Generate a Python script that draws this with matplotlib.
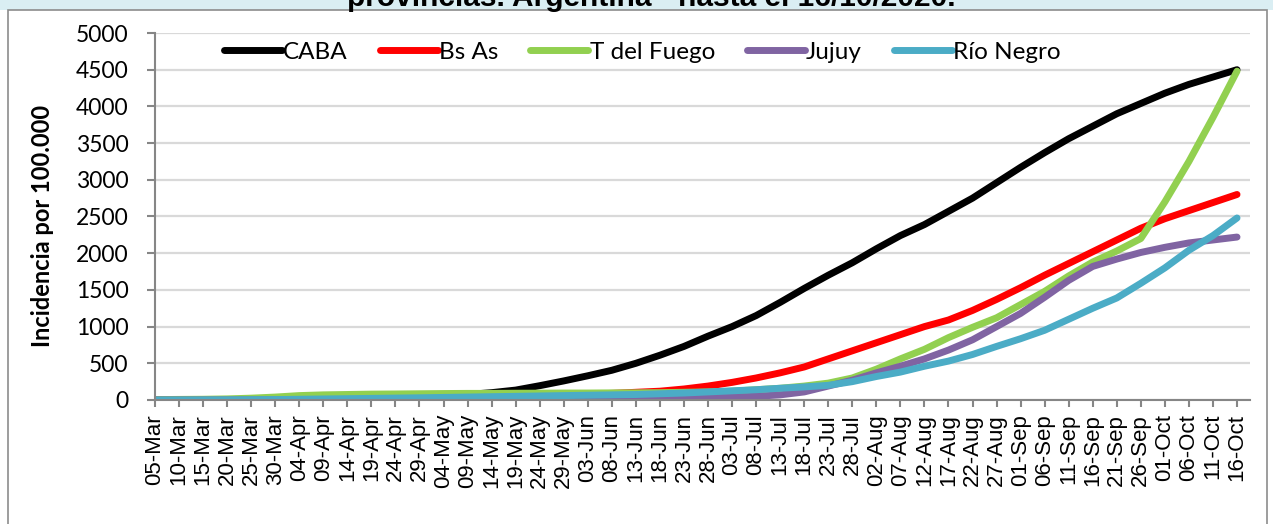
import pandas as pd
import matplotlib
matplotlib.use("Agg")
import matplotlib.pyplot as plt
from matplotlib.patches import Rectangle

# ==== datos (valor cada 5 días, 05-Mar .. 16-Oct) ====
tick_labels = ['05-Mar', '10-Mar', '15-Mar', '20-Mar', '25-Mar', '30-Mar',
               '04-Apr', '09-Apr', '14-Apr', '19-Apr', '24-Apr', '29-Apr',
               '04-May', '09-May', '14-May', '19-May', '24-May', '29-May',
               '03-Jun', '08-Jun', '13-Jun', '18-Jun', '23-Jun', '28-Jun',
               '03-Jul', '08-Jul', '13-Jul', '18-Jul', '23-Jul', '28-Jul',
               '02-Aug', '07-Aug', '12-Aug', '17-Aug', '22-Aug', '27-Aug',
               '01-Sep', '06-Sep', '11-Sep', '16-Sep', '21-Sep', '26-Sep',
               '01-Oct', '06-Oct', '11-Oct', '16-Oct']

caba = [0, 1, 2, 5, 10, 15, 20, 25, 30, 35, 40, 50, 60, 75, 100, 135,
        195, 260, 330, 405, 500, 610, 730, 870, 1000, 1150, 1330, 1520,
        1700, 1870, 2060, 2240, 2390, 2570, 2750, 2960, 3170, 3370, 3560,
        3730, 3900, 4040, 4180, 4300, 4400, 4500]
bs_as = [0, 0, 1, 2, 4, 6, 9, 12, 15, 18, 22, 26, 32, 38, 45, 55, 65, 75,
         82, 90, 105, 120, 150, 190, 240, 300, 370, 450, 560, 670, 780,
         890, 1000, 1090, 1220, 1370, 1530, 1700, 1860, 2020, 2180, 2340,
         2470, 2580, 2690, 2800]
t_fuego = [5, 8, 10, 15, 25, 40, 60, 70, 75, 80, 82, 85, 88, 90, 90, 92,
           93, 95, 95, 97, 98, 100, 105, 110, 120, 140, 160, 190, 230, 300,
           420, 560, 690, 850, 990, 1120, 1300, 1480, 1690, 1880, 2030,
           2200, 2700, 3250, 3850, 4480]
jujuy = [0, 0, 0, 0, 1, 1, 1, 2, 2, 2, 3, 3, 4, 4, 5, 5, 6, 7, 8, 9, 10,
         12, 20, 30, 40, 50, 70, 110, 190, 270, 370, 460, 560, 680, 820,
         1000, 1180, 1400, 1630, 1820, 1920, 2010, 2080, 2140, 2180, 2220]
rio_negro = [0, 0, 1, 2, 4, 6, 10, 14, 18, 22, 26, 30, 35, 40, 45, 50, 55,
             60, 65, 70, 75, 85, 95, 110, 125, 140, 160, 178, 200, 250, 320,
             380, 460, 530, 620, 730, 835, 950, 1100, 1250, 1390, 1590, 1800,
             2040, 2240, 2480]

series = [('CABA', caba, '#000000'),
          ('Bs As', bs_as, '#FF0000'),
          ('T del Fuego', t_fuego, '#92D050'),
          ('Jujuy', jujuy, '#8064A2'),
          ('Río Negro', rio_negro, '#4BACC6')]

fechas = pd.date_range('2020-03-05', periods=len(tick_labels), freq='5D')

# ==== figura ====
fig = plt.figure(figsize=(12.73, 5.24), dpi=100)
fig.patches.append(Rectangle((0, 1 - 10 / 524), 1, 10 / 524, transform=fig.transFigure,
                             facecolor='#DAEEF3', edgecolor='none', zorder=-3))
fig.patches.append(Rectangle((8 / 1273, -0.01), 1259 / 1273, 1 - 10 / 524 + 0.01,
                             transform=fig.transFigure, facecolor='white',
                             edgecolor='#8C8C8C', lw=1.2, zorder=-2))
fig.text(0.512, 1 - 6 / 524, 'provincias. Argentina - hasta el 16/10/2020.',
         ha='center', va='baseline', fontsize=21.5, fontweight='bold',
         family='Liberation Sans')

ax = fig.add_axes([155 / 1273, 1 - 400 / 524, 1095 / 1273, 367 / 524])
ax.set_facecolor('none')

for nombre, vals, color in series:
    ax.plot(fechas, vals, color=color, lw=5, label=nombre,
            solid_capstyle='round', solid_joinstyle='round')

ax.set_ylim(0, 5000)
ax.set_yticks(range(0, 5001, 500))
ax.set_xlim(fechas[0], fechas[0] + pd.Timedelta(days=227.7))
ax.set_xticks(fechas)
ax.set_xticklabels(tick_labels, rotation=90, family='Liberation Sans', fontsize=16)
for lab in ax.get_yticklabels():
    lab.set_family('Lato')
    lab.set_fontsize(16.5)

ax.grid(axis='y', color='#D9D9D9', lw=1.6)
ax.set_axisbelow(True)
for s in ['top', 'right']:
    ax.spines[s].set_visible(False)
for s in ['left', 'bottom']:
    ax.spines[s].set_color('#868686')
    ax.spines[s].set_linewidth(1.5)
ax.tick_params(axis='y', direction='out', length=6, width=1.5, color='#868686', pad=13)
ax.tick_params(axis='x', direction='out', length=5, width=1.5, color='#868686', pad=5)

ax.set_ylabel('Incidencia por 100.000', family='Lato', fontweight='bold', fontsize=17)
ax.yaxis.set_label_coords(-0.092, 0.475)

ax.legend(loc='center', bbox_to_anchor=(0.445, 0.947), ncol=5, frameon=False,
          prop={'family': 'Lato', 'size': 17.5}, handlelength=2.4,
          handletextpad=0.05, columnspacing=1.3)

plt.savefig('out.png', dpi=100)
